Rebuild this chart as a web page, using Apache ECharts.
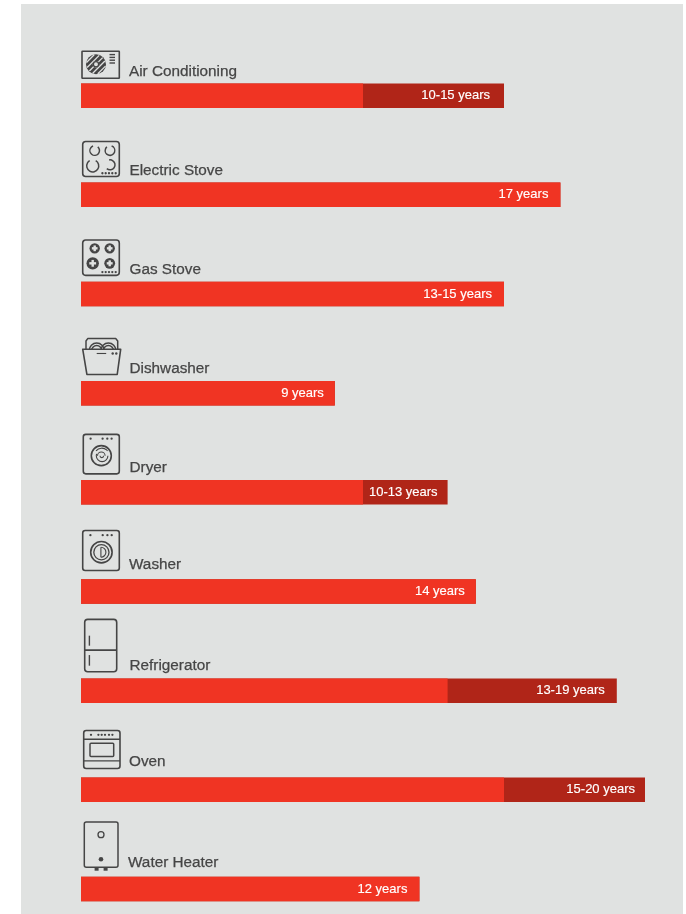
<!DOCTYPE html>
<html>
<head>
<meta charset="utf-8">
<script src="https://cdn.jsdelivr.net/npm/echarts@6/dist/echarts.min.js"></script>
<style>
html,body{margin:0;padding:0;background:#fff;overflow:hidden}
#panel{position:absolute;left:21px;top:4px;width:662px;height:910px;background:#e0e2e1}
#chart{position:absolute;left:0;top:0;width:686px;height:914px}
</style>
</head>
<body>
<div id="panel"></div>
<div id="chart"></div>
<script>
const categories = ['Air Conditioning','Electric Stove','Gas Stove','Dishwasher','Dryer','Washer','Refrigerator','Oven','Water Heater'];
const lowYears  = [10,17,15,9,10,14,13,15,12];
const highYears = [15,17,15,9,13,14,19,20,12];
const valueLabels = ['10-15 years','17 years','13-15 years','9 years','10-13 years','14 years','13-19 years','15-20 years','12 years'];

const labelInsets = [14,12,12,11,10,11,12,10,12];
const INK = '#454545', BG = '#e0e2e1', LW = 1.5;
const R = (x,y,w,h,r,lw) => ({type:'rect',shape:{x,y,width:w,height:h,r:r||0},style:{fill:'none',stroke:INK,lineWidth:lw||LW}});
const C = (cx,cy,r,lw) => ({type:'circle',shape:{cx,cy,r},style:{fill:'none',stroke:INK,lineWidth:lw||LW}});
const F = (cx,cy,r,col) => ({type:'circle',shape:{cx,cy,r},style:{fill:col||INK}});
const L = (x1,y1,x2,y2,lw,col) => ({type:'line',shape:{x1,y1,x2,y2},style:{stroke:col||INK,lineWidth:lw||LW}});
const A = (cx,cy,r,a0,a1,lw) => ({type:'arc',shape:{cx,cy,r,startAngle:a0*Math.PI/180,endAngle:a1*Math.PI/180,clockwise:true},style:{fill:'none',stroke:INK,lineWidth:lw||LW}});
const dots = (xs,y,r) => xs.map(x => F(x,y,r||1.15));
const plusBurner = (cx,cy,r) => [F(cx,cy,r), L(cx-r*0.55,cy,cx+r*0.55,cy,2.4,BG), L(cx,cy-r*0.55,cx,cy+r*0.55,2.4,BG)];

function fanHatch(cx,cy,r){
  const out=[F(cx,cy,r)];
  for(let d=-8;d<=8;d+=4){
    const h=Math.sqrt(Math.max(r*r-d*d,0))-0.6, k=Math.SQRT1_2;
    const mx=cx+d*k, my=cy+d*k;
    out.push(L(mx-h*k,my+h*k,mx+h*k,my-h*k,1.3,BG));
  }
  out.push(F(cx,cy,3.2,BG),C(cx,cy,2.6,1.3));
  return out;
}

/* each icon: offset from the bar's start and centre, then its drawing */
const icons = [
 {ox:1, oy:-44.4, textX:48, textY:-23.7, draw:[R(0,0,37.3,27,0.5,1.6),...fanHatch(14,13,10),
   L(27.5,3.3,33,3.3,1.4),L(27.5,6.1,33,6.1,1.4),L(27.5,8.9,33,8.9,1.4),L(27.5,11.7,33,11.7,1.4)]},
 {ox:1.7, oy:-53.3, textX:48.5, textY:-24.2, draw:[R(0,0,36.6,35,3,1.6),
   A(12,9,4.8,-50,250),A(27.3,9,4.8,-70,230),A(10,24.3,6,-60,240),A(27.3,23.3,5,-100,130),
   ...dots([19.7,23,26.3,29.6,33],31.7)]},
 {ox:1.7, oy:-54, textX:48.5, textY:-24.2, draw:[R(0,0,36.6,35.3,3,1.6),
   ...plusBurner(12,8.3,5.2),...plusBurner(27,8.3,5.2),...plusBurner(10,23.3,6.2),...plusBurner(27,23.3,5.4),
   ...dots([19.7,23,26.3,29.6,33],32)]},
 {ox:1.7, oy:-55.2, textX:48.5, textY:-24.5, draw:[
   {type:'polyline',shape:{points:[[3.3,11],[3.3,3],[5,0.6],[33,0.6],[35,3],[35,11]]},style:{fill:'none',stroke:INK,lineWidth:LW,lineJoin:'round'}},
   A(14,12.5,7.5,180,360),A(14,12.5,5,180,360),A(25.7,12.5,7.5,180,360),A(25.7,12.5,5,180,360),
   {type:'polygon',shape:{points:[[0,11.2],[38,11.2],[34.5,36.5],[4.2,36.5]]},style:{fill:BG,stroke:INK,lineWidth:1.6,lineJoin:'round'}},
   L(14,15.5,23.5,15.5,1.1),...dots([30,33.6],15.5,1.2)]},
 {ox:2.3, oy:-58, textX:48.5, textY:-24.2, draw:[R(0,0,36,39.5,2.5,1.6),
   ...dots([7.3,19.3,24,28.3],4.3),C(18,21.3,10,1.6),
   A(18.5,21.5,1.8,0,180,1.1),A(18,21.5,3.8,180,360,1.1),A(18.8,21.5,5.8,0,200,1.1),A(18.5,21.3,7.5,220,320,1.1)]},
 {ox:1.7, oy:-61, textX:48, textY:-26.8, draw:[R(0,0,36.6,40,2.5,1.6),
   ...dots([7.7,20,24.7,29],4.7),C(18.7,21.7,10.7,1.6),C(18.7,21.7,7.6,1.3),
   A(18.2,21.7,5,-90,90,1.1),L(18.2,16.7,18.2,26.7,1.1)]},
 {ox:3.7, oy:-71.3, textX:48.5, textY:-25.2, draw:[R(0,0,32,52.3,3,1.6),L(0,30.7,32,30.7,1.6),
   L(4.7,16.3,4.7,26.3,1.4),L(4.7,35.7,4.7,46.3,1.4)]},
 {ox:2.7, oy:-59.3, textX:48, textY:-27.7, draw:[R(0,0,36.3,38,2.5,1.6),L(0,8.7,36.3,8.7,1.3),L(0,30.3,36.3,30.3,1.3),
   ...dots([7.3,14.7,18,21.3,25.3,28.7],4.3),R(6.3,12.7,23.7,13.3,1,1.5)]},
 {ox:3.3, oy:-67, textX:47, textY:-26.2, draw:[R(0,0,33.7,45.3,2,1.5),C(16.7,12.7,3,1.3),F(16.7,37.3,2.3),
   {type:'rect',shape:{x:10.3,y:45.3,width:4,height:3.4},style:{fill:INK}},
   {type:'rect',shape:{x:19.3,y:45.3,width:4,height:3.4},style:{fill:INK}}]}
];

const chart = echarts.init(document.getElementById('chart'), null, {renderer:'canvas'});
chart.setOption({
  animation:false,
  backgroundColor:'transparent',
  grid:{left:81, top:95.7, width:564, height:793.3, containLabel:false},
  xAxis:{type:'value', min:0, max:20, show:false},
  yAxis:{type:'category', inverse:true, boundaryGap:false, data:categories, show:false},
  series:[
    {type:'bar', name:'High', data:highYears, barWidth:24.5, barGap:'-100%', itemStyle:{color:'#b02518'}, z:2, silent:true, clip:false},
    {type:'bar', name:'Low', data:lowYears, barWidth:24.5, barGap:'-100%', itemStyle:{color:'#f03423'}, z:3, silent:true, clip:false},
    {type:'bar', name:'Label', barWidth:24.5, barGap:'-100%', itemStyle:{color:'transparent'}, z:4, silent:true, clip:false,
      data:highYears.map((v,i) => ({value:v, label:{distance:labelInsets[i]}})),
      label:{show:true, position:'insideRight', color:'#fff', fontFamily:'Liberation Sans', fontSize:13,
        textBorderColor:'#fff', textBorderWidth:0.15,
        formatter:p => valueLabels[p.dataIndex]}},
    {type:'custom', name:'Names', coordinateSystem:'cartesian2d', z:5, silent:true, clip:false,
      encode:{x:0,y:1},
      data:categories.map(c => [0,c]),
      renderItem:(params,api) => {
        const i = params.dataIndex, p = api.coord([0,i]), ic = icons[i];
        return {type:'group', x:p[0], y:p[1], children:[
          {type:'group', x:ic.ox, y:ic.oy, children:ic.draw},
          {type:'text', style:{x:ic.textX, y:ic.textY, text:categories[i], fill:'#454545',
            stroke:'#454545', lineWidth:0.25,
            font:'15.3px "Liberation Sans"', align:'left', verticalAlign:'middle'}}
        ]};
      }}
  ]
});
</script>
</body>
</html>
